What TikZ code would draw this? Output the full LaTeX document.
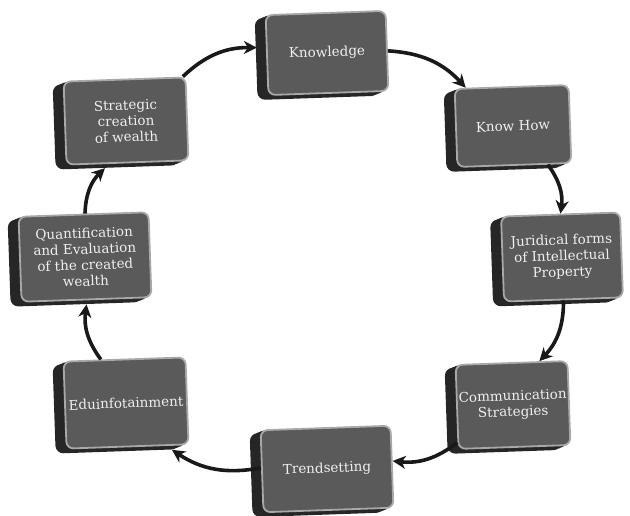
\documentclass[tikz,border=0pt]{standalone}
\usepackage{fontspec}
\setmainfont{DejaVu Serif}
\usetikzlibrary{shadows,arrows.meta}
\definecolor{facegray}{HTML}{5A5A5A}
\definecolor{rimgray}{HTML}{A8A8A8}
\definecolor{backgray}{HTML}{262626}
\definecolor{txtgray}{HTML}{F0F0F0}
\tikzset{
  slab/.style={rectangle, rounded corners=7pt, fill=facegray, draw=rimgray,
    line width=1.8pt, text=txtgray, align=center, rotate=2,
    font=\fontsize{13.5}{16}\selectfont, inner sep=2pt,
    general shadow={fill=backgray, draw=backgray, shadow xshift=-10pt, shadow yshift=-4pt},
    general shadow={fill=backgray, draw=backgray, shadow xshift=-7pt, shadow yshift=-2.8pt},
    general shadow={fill=backgray, draw=backgray, shadow xshift=-4pt, shadow yshift=-1.6pt}},
  flow/.style={line width=3.6pt, draw=black!90,
    -{Stealth[length=13pt,width=13pt,inset=4pt]}, bend left=22}
}
\begin{document}
\begin{tikzpicture}[x=1pt,y=1pt]
\useasboundingbox (0,0) rectangle (630,515);
\node[slab, minimum width=120pt, minimum height=80pt] (k)  at (327,462) {Knowledge};
\node[slab, minimum width=114pt, minimum height=78pt] (kh) at (513,389) {Know How};
\node[slab, minimum width=119pt, minimum height=85pt] (j)  at (562,258) {Juridical forms\\of Intellectual\\Property};
\node[slab, minimum width=110pt, minimum height=84pt] (c)  at (513,110) {Communication\\Strategies};
\node[slab, minimum width=130pt, minimum height=82pt] (t)  at (327,46)  {Trendsetting};
\node[slab, minimum width=122pt, minimum height=87pt] (e)  at (126,112) {Eduinfotainment};
\node[slab, minimum width=130pt, minimum height=85pt] (q)  at (85,258)  {Quantification\\and Evaluation\\of the created\\wealth};
\node[slab, minimum width=122pt, minimum height=83pt] (s)  at (126,394) {Strategic\\creation\\of wealth};

\draw[flow] (k.east) to (kh.139);
\draw[flow] (kh.-50) to (j.north);
\draw[flow] (j.south) to (c.57);
\draw[flow] (c.212) to (t.5);
\draw[flow] (t.177) to ([yshift=-4pt]e.-45);
\draw[flow] (e.118) to ([yshift=-4pt]q.south);
\draw[flow] (q.88) to ([yshift=-4pt]s.-118);
\draw[flow] (s.36) to ([xshift=-9pt]k.173);
\end{tikzpicture}
\end{document}
